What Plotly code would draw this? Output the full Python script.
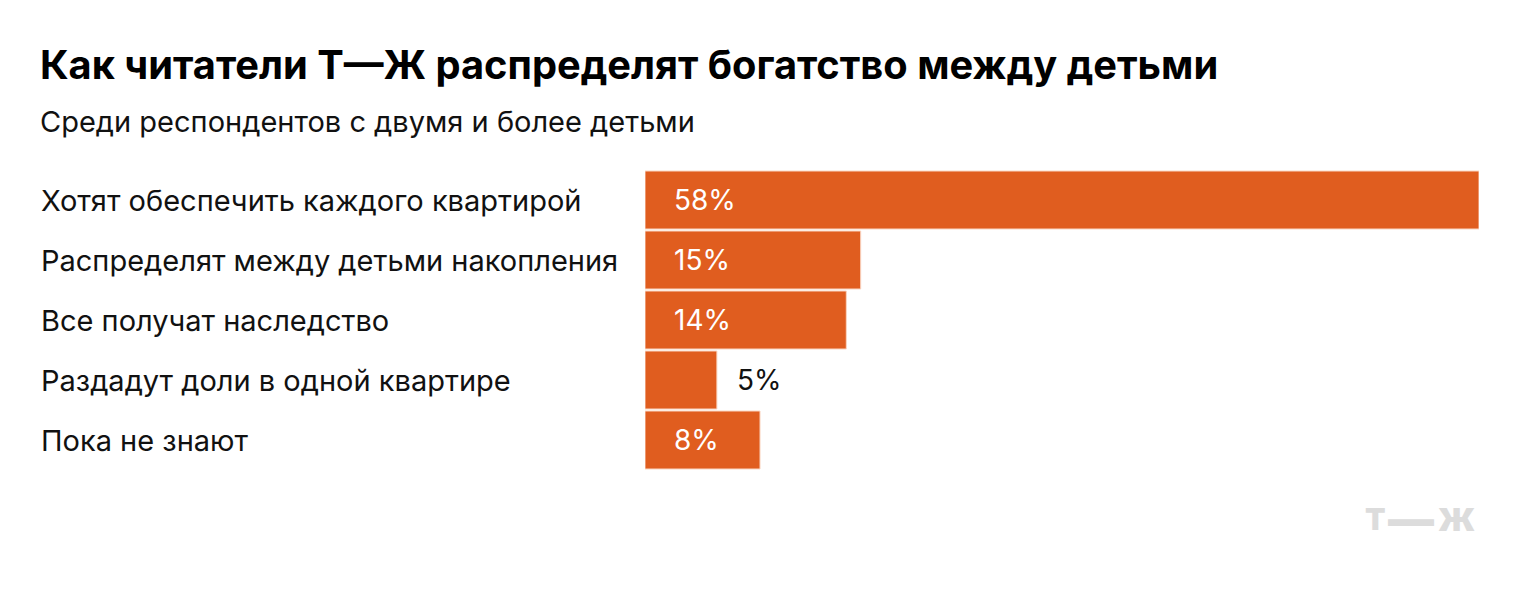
import plotly.graph_objects as go

categories = [
    "Хотят обеспечить каждого квартирой",
    "Распределят между детьми накопления",
    "Все получат наследство",
    "Раздадут доли в одной квартире",
    "Пока не знают",
]
values = [58, 15, 14, 5, 8]
value_labels = ["58%", "15%", "14%", "5%", "8%"]
inside_flags = [True, True, True, False, True]

title = "Как читатели Т—Ж распределят богатство между детьми"
subtitle = "Среди респондентов с двумя и более детьми"
logo_parts = ["Т", "—", "Ж"]

W, H = 1520, 590
L, R, T, B = 645, 41, 170, 120
PW = W - L - R
PH = H - T - B

def px(xp):
    return (xp - L) / PW

def py(yp):
    return (H - B - yp) / PH

FONT = "Inter"
ORANGE = "#e05d1f"

fig = go.Figure(go.Bar(
    x=values,
    y=categories,
    orientation="h",
    marker=dict(color=ORANGE, line=dict(color="#fad6c3", width=1)),
    hoverinfo="skip",
))

ann = []
for cat, v, lab, ins in zip(categories, values, value_labels, inside_flags):
    ann.append(dict(x=px(39), y=cat, xref="paper", yref="y", text=cat,
                    showarrow=False, xanchor="left", yanchor="middle",
                    font=dict(family=FONT, size=29, color="#111111")))
    if ins:
        ann.append(dict(x=0, y=cat, xref="x", yref="y", text=lab, xshift=27,
                        showarrow=False, xanchor="left", yanchor="middle",
                        font=dict(family=FONT, size=28, color="#ffffff")))
    else:
        ann.append(dict(x=v, y=cat, xref="x", yref="y", text=lab, xshift=18,
                        showarrow=False, xanchor="left", yanchor="middle",
                        font=dict(family=FONT, size=28, color="#111111")))

ann.append(dict(x=px(38), y=py(65), xref="paper", yref="paper", text="<b>" + title + "</b>",
                showarrow=False, xanchor="left", yanchor="middle",
                font=dict(family=FONT, size=39.8, color="#000000")))
ann.append(dict(x=px(38), y=py(121), xref="paper", yref="paper", text=subtitle,
                showarrow=False, xanchor="left", yanchor="middle",
                font=dict(family=FONT, size=29, color="#111111")))

logo_centers = [1375, 1411, 1456]
logo_sizes = [30, 46, 32]
for part, cx, sz in zip(logo_parts, logo_centers, logo_sizes):
    ann.append(dict(x=px(cx), y=py(519), xref="paper", yref="paper", text=part,
                    showarrow=False, xanchor="center", yanchor="middle",
                    font=dict(family=FONT, size=sz, color="#dcdcdc", weight=900)))

fig.update_layout(
    width=W, height=H,
    margin=dict(l=L, r=R, t=T, b=B, pad=0),
    paper_bgcolor="white", plot_bgcolor="white",
    bargap=2/60,
    showlegend=False,
    xaxis=dict(range=[0, 58], visible=False, fixedrange=True),
    yaxis=dict(autorange=False, range=[4.5, -0.5], visible=False, fixedrange=True),
    annotations=ann,
)

fig.write_html("out.html", config={"displayModeBar": False})
